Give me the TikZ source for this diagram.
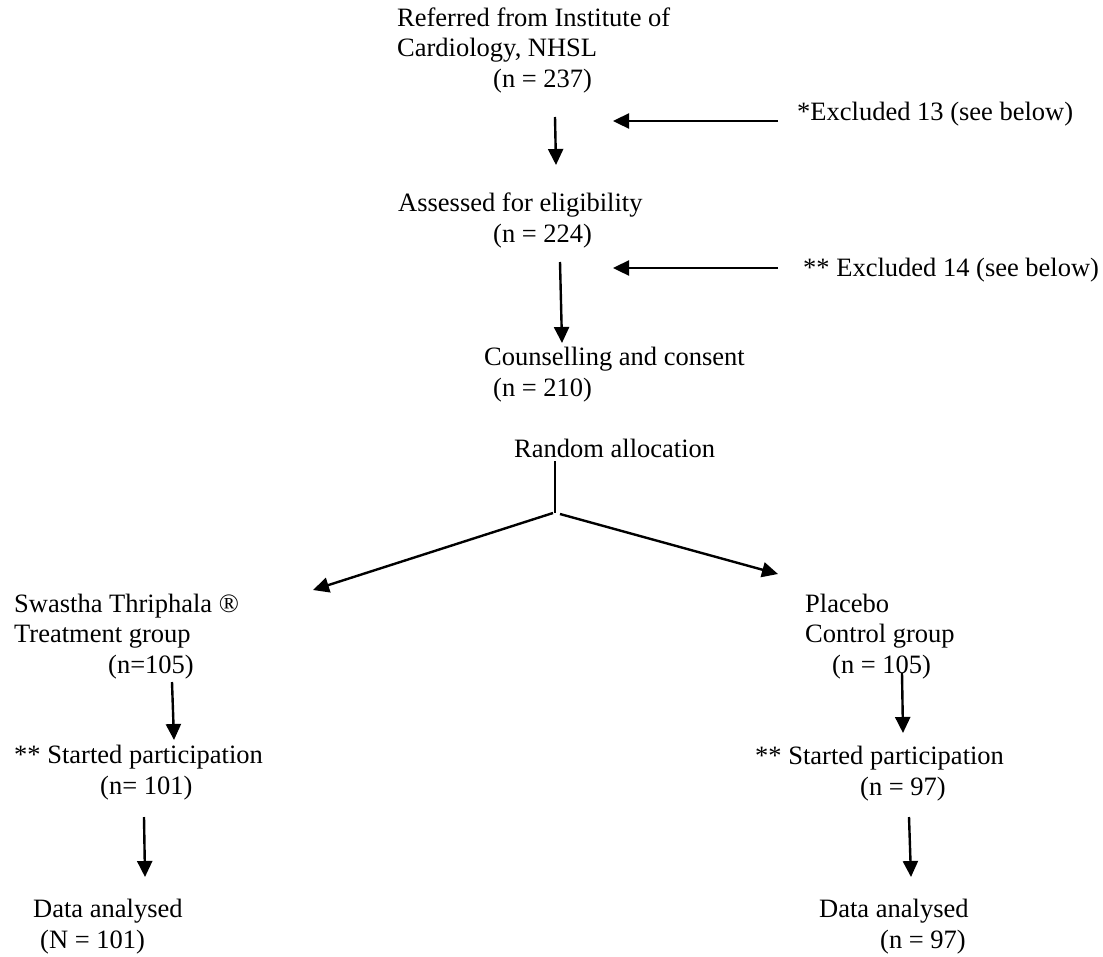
\documentclass[tikz,border=0pt]{standalone}
\usepackage{fontspec}
\setmainfont{Liberation Serif}
\usepackage{tikz}
\usetikzlibrary{arrows.meta, positioning}

\begin{document}
\begin{tikzpicture}[x=1pt, y=-1pt,
  every node/.style={font=\fontsize{26.5}{30.5}\selectfont, inner sep=0pt,
                     anchor=base west, align=left},
  flow/.style={line width=2.4pt, -{Triangle[length=16pt, width=15pt]}},
  stub/.style={line width=2.4pt}]

\useasboundingbox (0,0) rectangle (1103,956);

% ------------------------------------------------------------------
% MAIN COLUMN: referral, eligibility, consent
% (multi-line nodes sit on the baseline of their last line)
% ------------------------------------------------------------------
\node (referred) at (397,87)
  {Referred from Institute of\\Cardiology, NHSL\\\hspace*{96pt}(n = 237)};
\node (assessed) at (398,242)
  {Assessed for eligibility\\\hspace*{95pt}(n = 224)};
\node (consent) at (484,396)
  {Counselling and consent\\\hspace*{9pt}(n = 210)};
\node (random) at (514,457) {Random allocation};

% Exclusions on the right
\node (excl1) at (797,120) {*Excluded 13 (see below)};
\node (excl2) at (803,276) {** Excluded 14 (see below)};

% ------------------------------------------------------------------
% ARM NODES: treatment (left) and placebo (right)
% ------------------------------------------------------------------
\node (treat) at (14,673)
  {Swastha Thriphala ®\\Treatment group\\\hspace*{94pt}(n=105)};
\node (startL) at (14,794)
  {** Started participation\\\hspace*{86pt}(n= 101)};
\node (dataL) at (33,948)
  {Data analysed\\\hspace*{7pt}(N = 101)};

\node (placebo) at (805,673)
  {Placebo\\Control group\\\hspace*{27pt}(n = 105)};
\node (startR) at (755,795)
  {** Started participation\\\hspace*{105pt}(n = 97)};
\node (dataR) at (819,948)
  {Data analysed\\\hspace*{61pt}(n = 97)};

% ------------------------------------------------------------------
% CONNECTOR END POINTS
% ------------------------------------------------------------------
\coordinate (r1) at (555,117);  \coordinate (a1) at (556,165);
\coordinate (r2) at (560,262);  \coordinate (a2) at (562,343);
\coordinate (x1) at (778,121);  \coordinate (y1) at (613,121);
\coordinate (x2) at (778,268);  \coordinate (y2) at (613,268);
\coordinate (s1) at (555,461);  \coordinate (split) at (555,513);
\coordinate (tL) at (313,590);  \coordinate (tR) at (778,574);
\coordinate (l1) at (172,682);  \coordinate (l2) at (174,740);
\coordinate (l3) at (144,817);  \coordinate (l4) at (145,877);
\coordinate (p1) at (902,673);  \coordinate (p2) at (903,733);
\coordinate (p3) at (909,817);  \coordinate (p4) at (911,877);

% ------------------------------------------------------------------
% ARROWS
% ------------------------------------------------------------------
\draw[flow] (r1) -- (a1);
\draw[flow] (r2) -- (a2);
\draw[flow] (x1) -- (y1);
\draw[flow] (x2) -- (y2);

% Random allocation split
\draw[stub] (s1) -- (split);
\draw[flow] ([xshift=-2pt]split) -- (tL);
\draw[flow] ([xshift=5pt, yshift=-1pt]split) -- (tR);

\draw[flow] (l1) -- (l2);
\draw[flow] (l3) -- (l4);
\draw[flow] (p1) -- (p2);
\draw[flow] (p3) -- (p4);

\end{tikzpicture}
\end{document}
